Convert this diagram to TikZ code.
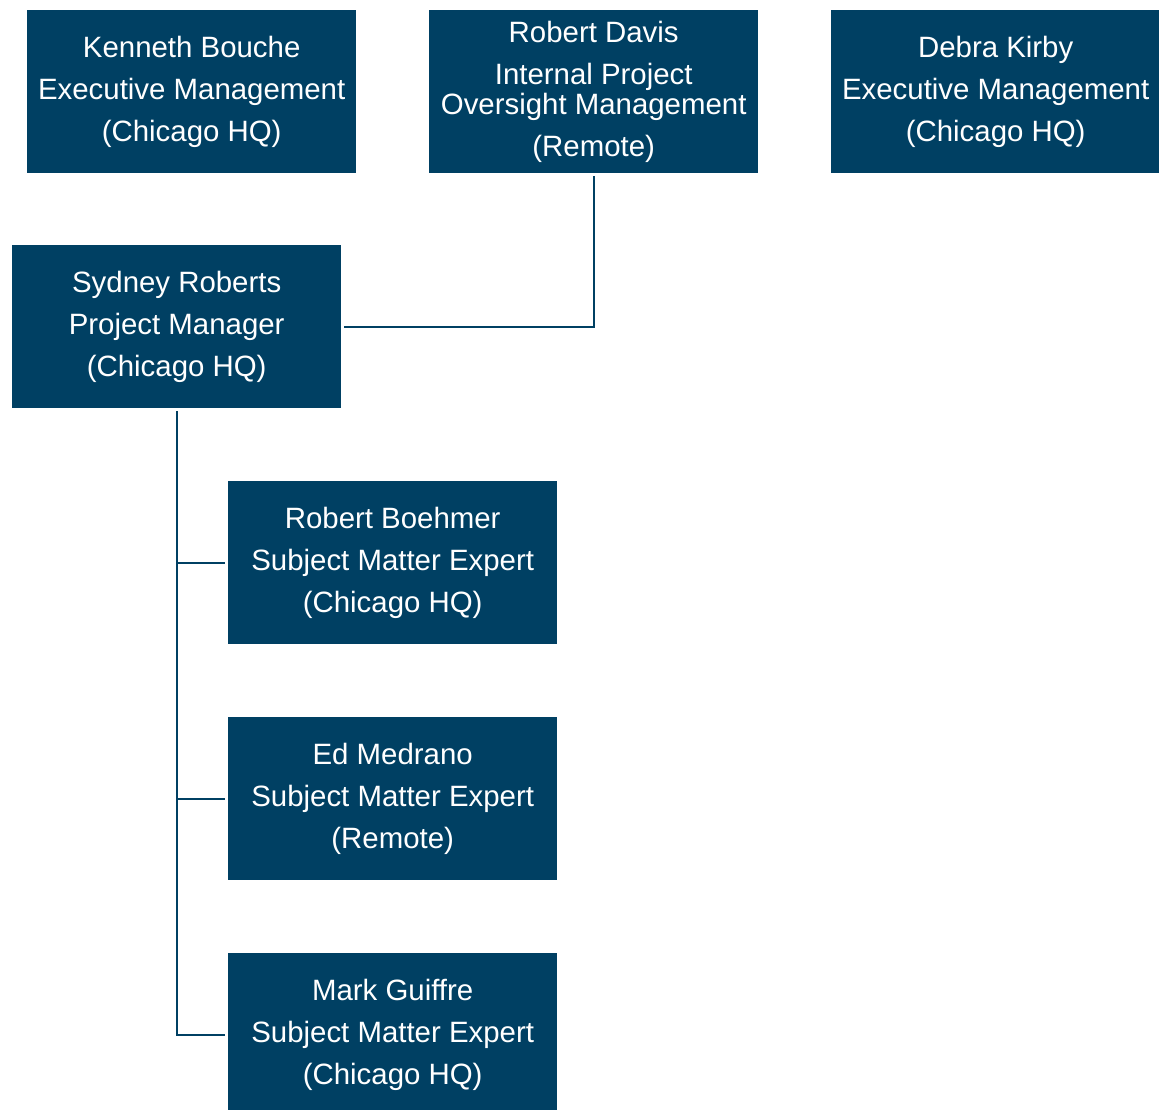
\documentclass[tikz,border=0pt]{standalone}
\usepackage{fontspec}
\setmainfont{Liberation Sans}
\definecolor{boxblue}{RGB}{0,64,99}
\begin{document}
\begin{tikzpicture}[x=1pt,y=-1pt,
  person/.style={fill=boxblue,draw=none,text=white,anchor=north west,
    minimum width=329pt,minimum height=163pt,inner sep=0pt,align=center,
    font=\fontsize{29.4}{42}\selectfont},
  conn/.style={draw=boxblue,line width=2pt,shorten <=3pt,shorten >=3pt}]
\useasboundingbox (0,0) rectangle (1159,1110);
\node[person] (kenneth) at (27,10) {Kenneth Bouche\\Executive Management\\(Chicago HQ)};
\node[person] (davis) at (429,10) {Robert Davis\\Internal Project\\[-12pt]Oversight Management\\(Remote)};
\node[person] (debra) at (831,10) {Debra Kirby\\Executive Management\\(Chicago HQ)};
\node[person] (sydney) at (12,245) {Sydney Roberts\\Project Manager\\(Chicago HQ)};
\node[person] (boehmer) at (228,481) {Robert Boehmer\\Subject Matter Expert\\(Chicago HQ)};
\node[person] (ed) at (228,717) {Ed Medrano\\Subject Matter Expert\\(Remote)};
\node[person] (mark) at (228,953) {Mark Guiffre\\Subject Matter Expert\\(Chicago HQ)};
\draw[conn] (davis.south) |- (sydney.east);
\draw[conn] (sydney.south) |- (mark.west);
\draw[conn,shorten <=0pt] (sydney.south |- boehmer.west) -- (boehmer.west);
\draw[conn,shorten <=0pt] (sydney.south |- ed.west) -- (ed.west);
\end{tikzpicture}
\end{document}
